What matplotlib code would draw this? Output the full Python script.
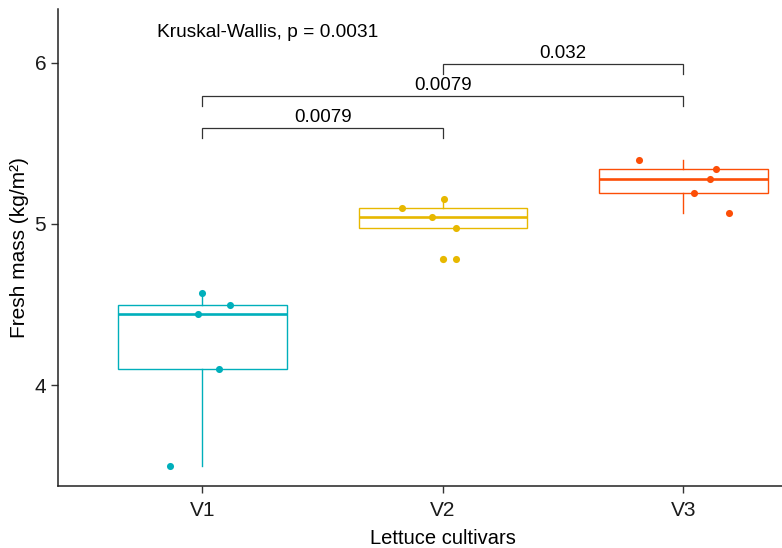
import matplotlib
matplotlib.use("Agg")
import matplotlib.pyplot as plt

plt.rcParams['font.family'] = ['Liberation Sans', 'DejaVu Sans']

# data
cultivars = ["V1", "V2", "V3"]
colors = ["#00AFBB", "#E7B800", "#FC4E07"]
fresh_mass = [
    [4.57, 4.50, 4.44, 4.10, 3.50],
    [5.097, 5.157, 5.045, 4.975, 4.785],
    [5.40, 5.34, 5.28, 5.19, 5.07],
]
# horizontal jitter of each point (category units)
jitter = [
    [0.0, 0.117, -0.02, 0.07, -0.133],
    [-0.168, 0.005, -0.046, 0.055, 0.055],
    [-0.183, 0.1375, 0.111, 0.045, 0.189],
]

# pairwise comparisons: (group a, group b, bracket height, label)
comparisons = [
    (1, 2, 5.598, "0.0079"),
    (1, 3, 5.795, "0.0079"),
    (2, 3, 5.996, "0.032"),
]
kruskal_label = "Kruskal-Wallis, p = 0.0031"

fig = plt.figure(figsize=(7.82, 5.48), dpi=100)
ax = fig.add_axes([0.0742, 0.1131, 0.9258, 0.8705])

for i, (vals, col) in enumerate(zip(fresh_mass, colors)):
    pos = i + 1
    ax.boxplot(vals, positions=[pos], widths=0.7, whis=1.5,
               patch_artist=True,
               boxprops=dict(facecolor="white", edgecolor=col, linewidth=1.0),
               medianprops=dict(color=col, linewidth=1.9),
               whiskerprops=dict(color=col, linewidth=1.0),
               capprops=dict(visible=False),
               flierprops=dict(marker="o", markerfacecolor=col, markeredgewidth=0,
                               markersize=5.2),
               zorder=2)
    xs = [pos + j for j in jitter[i]]
    ax.scatter(xs, vals, s=26, color=col, zorder=3, linewidths=0)

tip = 0.062
for a, b, h, lab in comparisons:
    ax.plot([a, a, b, b], [h - tip, h, h, h - tip], color="#333333", lw=0.9,
            solid_joinstyle="miter")
    ax.text((a + b) / 2, h + 0.012, lab, ha="center", va="bottom", fontsize=13.5,
            color="black")

ax.text(0.81, 6.186, kruskal_label, ha="left", va="center", fontsize=13.8)

ax.set_xlim(0.4, 3.41)
ax.set_ylim(3.373, 6.335)
ax.set_xticks([1, 2, 3])
ax.set_xticklabels(cultivars)
ax.set_yticks([4, 5, 6])
ax.set_yticklabels(["4", "5", "6"])
ax.tick_params(axis="both", labelsize=15, length=5, width=1.0, color="#333333",
               labelcolor="#1a1a1a")
ax.tick_params(axis="x", pad=6)
ax.set_xlabel("Lettuce cultivars", fontsize=14.5, labelpad=6)
ax.xaxis.label.set_x((2 - 0.4) / (3.41 - 0.4))
ax.set_ylabel("Fresh mass (kg/m²)", fontsize=15, labelpad=4)

for s in ["top", "right"]:
    ax.spines[s].set_visible(False)
for s in ["left", "bottom"]:
    ax.spines[s].set_linewidth(1.1)
    ax.spines[s].set_color("#222222")

fig.savefig("out.png", dpi=100)
